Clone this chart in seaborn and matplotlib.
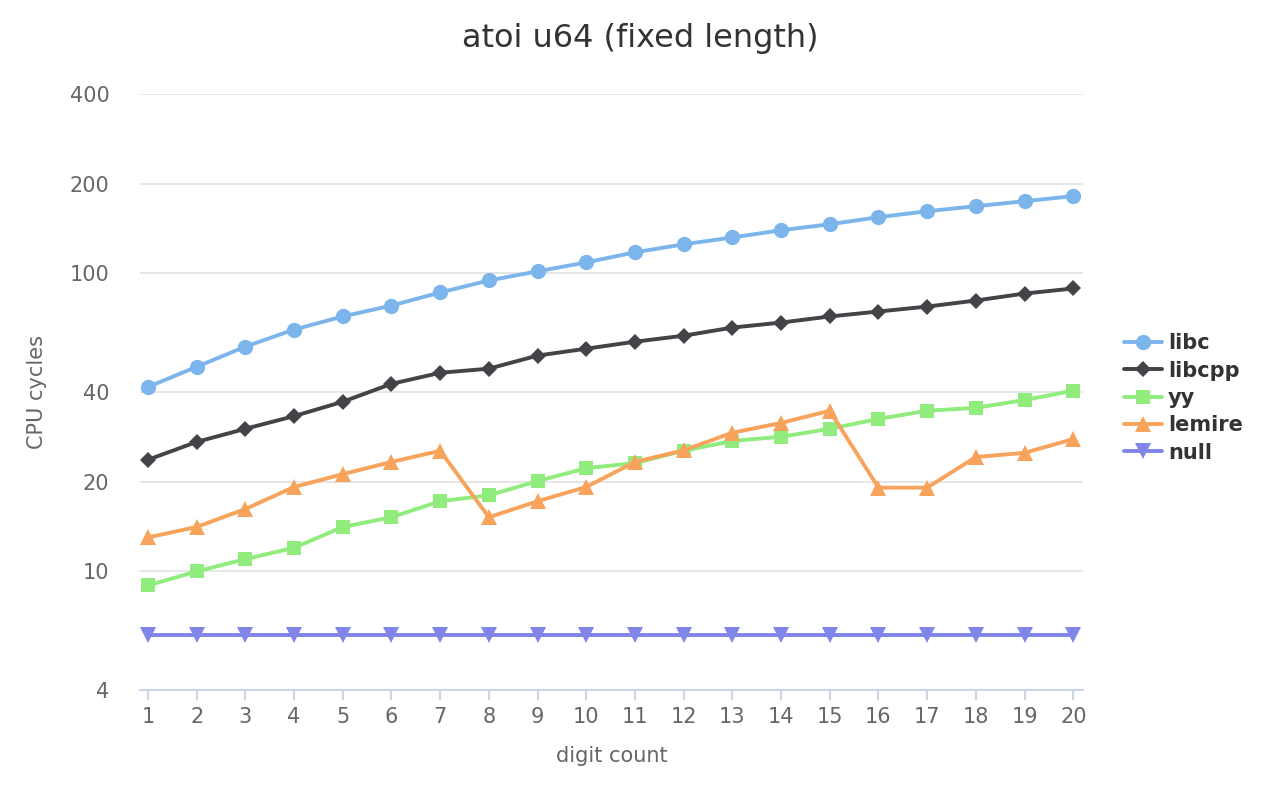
import matplotlib
matplotlib.use('Agg')
import matplotlib.pyplot as plt
from matplotlib.ticker import FixedLocator, FixedFormatter, NullLocator
import numpy as np
import pandas as pd
import seaborn as sns

# 数据
digits = list(range(1, 21))
libc = [41.6, 48.6, 56.8, 64.8, 71.7, 78.0, 86.3, 94.7, 101.6, 108.9,
        117.7, 125.2, 132.0, 139.6, 146.2, 154.4, 161.7, 168.1, 174.7, 181.7]
libcpp = [23.7, 27.2, 30.1, 33.2, 37.1, 42.6, 46.4, 47.9, 53.0, 55.9,
          59.0, 61.8, 65.8, 68.4, 71.7, 74.5, 77.4, 81.1, 85.6, 89.0]
yy = [8.97, 10.0, 11.0, 12.0, 14.1, 15.2, 17.2, 18.0, 20.1, 22.2,
      23.1, 25.4, 27.4, 28.3, 30.1, 32.5, 34.6, 35.4, 37.6, 40.4]
lemire = [13.0, 14.1, 16.2, 19.2, 21.2, 23.3, 25.4, 15.2, 17.2, 19.2,
          23.3, 25.5, 29.2, 31.5, 34.6, 19.1, 19.1, 24.2, 25.0, 27.8]
null = [6.1] * 20

series_names = ["libc", "libcpp", "yy", "lemire", "null"]
series_values = [libc, libcpp, yy, lemire, null]
colors = ["#7cb5ec", "#434348", "#90ed7d", "#f7a35c", "#8085e9"]
markers = ["o", "D", "s", "^", "v"]
marker_sizes = [11, 8, 10.5, 11.5, 11.5]
y_ticks = [4, 10, 20, 40, 100, 200, 400]

rows = []
for name, vals in zip(series_names, series_values):
    for d, v in zip(digits, vals):
        rows.append({"digit count": d, "CPU cycles": v, "series": name})
df = pd.DataFrame(rows)

sns.set_style("white")
plt.rcParams['font.family'] = ['DejaVu Sans']

fig = plt.figure(figsize=(12.8, 8), dpi=100)
ax = fig.add_axes([140 / 1280, 110 / 800, (1083 - 140) / 1280, (690 - 94) / 800])

sns.lineplot(
    data=df, x="digit count", y="CPU cycles", hue="series", style="series",
    hue_order=series_names, style_order=series_names,
    palette=dict(zip(series_names, colors)),
    markers=dict(zip(series_names, markers)), dashes=False,
    linewidth=2.8, markersize=11, markeredgewidth=0, ax=ax,
)

# 每种标记单独调整大小
for line, ms in zip(ax.lines, marker_sizes):
    line.set_markersize(ms)

ax.set_yscale("log")
ax.set_ylim(4, 400)
ax.set_xlim(0.836, 20.2)
ax.yaxis.set_major_locator(FixedLocator(y_ticks))
ax.yaxis.set_major_formatter(FixedFormatter([str(t) for t in y_ticks]))
ax.yaxis.set_minor_locator(NullLocator())
ax.set_xticks(digits)

ax.grid(axis="y", color="#e6e6e6", linewidth=1.4)
ax.grid(axis="x", visible=False)
for s in ["left", "right", "top"]:
    ax.spines[s].set_visible(False)
ax.spines["bottom"].set_color("#ccd6eb")
ax.spines["bottom"].set_linewidth(1.5)
ax.tick_params(axis="x", bottom=True, colors="#ccd6eb", length=7, width=1.5, pad=5,
               labelcolor="#666666", labelsize=15)
ax.tick_params(axis="y", left=False, length=0, pad=22, labelcolor="#666666", labelsize=15)

ax.set_xlabel("digit count", fontsize=15, color="#666666", labelpad=14)
ax.set_ylabel("CPU cycles", fontsize=15, color="#666666", labelpad=16)
fig.text(0.5, 1 - 38 / 800, "atoi u64 (fixed length)", fontsize=23, color="#333333",
         ha="center", va="center")

sns.move_legend(ax, "center left", bbox_to_anchor=(1.024, 0.49), frameon=False,
                title=None, prop={"weight": "bold", "size": 15},
                labelcolor="#333333", handlelength=1.8, handletextpad=0.3,
                labelspacing=0.35)
leg = ax.get_legend()
for h, ms in zip(leg.legend_handles, marker_sizes):
    h.set_markersize(ms)

plt.savefig("out.png", dpi=100)
